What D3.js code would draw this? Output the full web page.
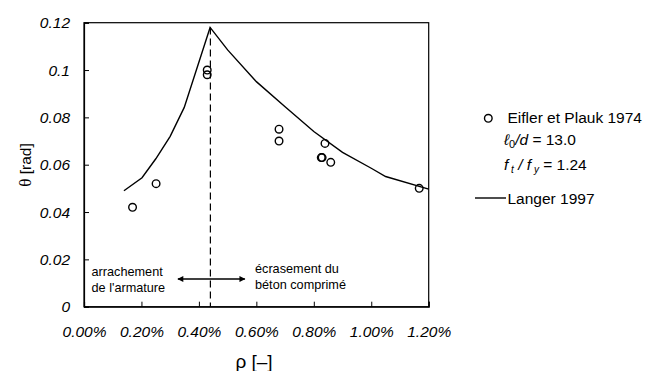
<!DOCTYPE html>
<html><head><meta charset="utf-8">
<script src="https://cdn.jsdelivr.net/npm/d3@7"></script>
<style>body{margin:0;background:#fff}svg{display:block}text{font-family:"Liberation Sans",Arial,sans-serif}</style>
</head><body>
<script>
// ---- data ----
const expRho   = [0.169, 0.251, 0.429, 0.429, 0.679, 0.679, 0.826, 0.829, 0.839, 0.859, 1.167];
const expTheta = [0.042, 0.052, 0.100, 0.098, 0.075, 0.070, 0.063, 0.063, 0.069, 0.061, 0.050];
const langerRho   = [0.139, 0.202, 0.250, 0.300, 0.349, 0.439, 0.500, 0.600, 0.700, 0.800, 0.900, 1.000, 1.050, 1.200];
const langerTheta = [0.0490, 0.0545, 0.0625, 0.0720, 0.0842, 0.1180, 0.1085, 0.0951, 0.0845, 0.0740, 0.0652, 0.0585, 0.0550, 0.0497];
const xTicks = [0, 0.2, 0.4, 0.6, 0.8, 1.0, 1.2];
const xTickLabels = ["0.00%", "0.20%", "0.40%", "0.60%", "0.80%", "1.00%", "1.20%"];
const yTicks = [0, 0.02, 0.04, 0.06, 0.08, 0.1, 0.12];
const yTickLabels = ["0", "0.02", "0.04", "0.06", "0.08", "0.1", "0.12"];
const limitRho = 0.44;

const W = 646, H = 371;
const svg = d3.select("body").append("svg").attr("width", W).attr("height", H);
const x = d3.scaleLinear().domain([0, 1.2]).range([84, 428.7]);
const y = d3.scaleLinear().domain([0, 0.12]).range([306.7, 22.7]);

// frame
svg.append("rect").attr("x", x(0)).attr("y", y(0.12)).attr("width", x(1.2) - x(0)).attr("height", y(0) - y(0.12))
  .attr("fill", "none").attr("stroke", "#000").attr("stroke-width", 1.2);

// axes
const xAxis = d3.axisBottom(x).tickValues(xTicks).tickSize(-5).tickPadding(19)
  .tickFormat((d, i) => xTickLabels[i]);
const gx = svg.append("g").attr("transform", `translate(0,${y(0)})`).call(xAxis);
const yAxis = d3.axisLeft(y).tickValues(yTicks).tickSize(-5).tickPadding(14)
  .tickFormat((d, i) => yTickLabels[i]);
const gy = svg.append("g").attr("transform", `translate(${x(0)},0)`).call(yAxis);
[gx, gy].forEach(g => {
  g.select(".domain").attr("stroke", "#000").attr("stroke-width", 1.2);
  g.selectAll(".tick line").attr("stroke", "#000").attr("stroke-width", 1);
  g.selectAll(".tick text").attr("font-family", "'Liberation Sans',Arial,sans-serif")
    .attr("font-size", 15.5).attr("font-style", "italic").attr("fill", "#000");
});

// axis titles
svg.append("text").attr("x", 254).attr("y", 368).attr("text-anchor", "middle")
  .attr("font-family", "'Liberation Serif','Times New Roman',serif").attr("font-size", 19)
  .text("ρ [–]");
const yt = svg.append("text").attr("transform", "translate(31,165) rotate(-90)").attr("text-anchor", "middle")
  .attr("font-size", 15.5);
yt.append("tspan").attr("font-family", "'Liberation Serif',serif").attr("font-size", 17).text("θ");
yt.append("tspan").text(" [rad]");

// dashed limit line
svg.append("line").attr("x1", x(limitRho)).attr("x2", x(limitRho))
  .attr("y1", y(d3.max(langerTheta))).attr("y2", y(0))
  .attr("stroke", "#000").attr("stroke-width", 1.2).attr("stroke-dasharray", "7,4");

// Langer curve
const line = d3.line().x(d => x(d[0])).y(d => y(d[1]));
svg.append("path").datum(langerRho.map((r, i) => [r, langerTheta[i]]))
  .attr("d", line).attr("fill", "none").attr("stroke", "#000").attr("stroke-width", 1.4);

// experimental points
svg.append("g").selectAll("circle").data(expRho.map((r, i) => [r, expTheta[i]])).join("circle")
  .attr("cx", d => x(d[0])).attr("cy", d => y(d[1])).attr("r", 3.8)
  .attr("fill", "none").attr("stroke", "#000").attr("stroke-width", 1.4);

// double arrow
const defs = svg.append("defs");
defs.append("marker").attr("id", "ah").attr("viewBox", "0 0 10 10").attr("refX", 9).attr("refY", 5)
  .attr("markerWidth", 10).attr("markerHeight", 6).attr("markerUnits", "userSpaceOnUse").attr("orient", "auto-start-reverse")
  .append("path").attr("d", "M0,0L10,5L0,10Z").attr("fill", "#000");
const arrowY = y(0.0117);
svg.append("line").attr("x1", x(0.327)).attr("x2", x(0.56)).attr("y1", arrowY).attr("y2", arrowY)
  .attr("stroke", "#000").attr("stroke-width", 1.5)
  .attr("marker-start", "url(#ah)").attr("marker-end", "url(#ah)");

// annotations
const ann = (tx, ty, s) => svg.append("text").attr("x", tx).attr("y", ty).attr("font-size", 12.7).text(s);
ann(x(0) + 7.5, 276, "arrachement");
ann(x(0) + 7.5, 292, "de l'armature");
ann(255, 272.5, "écrasement du");
ann(255, 288.5, "béton comprimé");

// legend
const lg = svg.append("g").attr("font-size", 15.5);
lg.append("circle").attr("cx", 488.3).attr("cy", 118.3).attr("r", 3.8).attr("fill", "none").attr("stroke", "#000").attr("stroke-width", 1.4);
lg.append("text").attr("x", 507.5).attr("y", 123.3).text("Eifler et Plauk 1974");
const t1 = lg.append("text").attr("x", 504).attr("y", 145);
t1.append("tspan").attr("font-style", "italic").text("ℓ");
t1.append("tspan").attr("font-size", 11).attr("dy", 3).text("0");
t1.append("tspan").attr("dy", -3).attr("font-style", "italic").text("/d");
t1.append("tspan").text(" = 13.0");
const t2 = lg.append("text").attr("x", 504).attr("y", 170);
t2.append("tspan").attr("font-style", "italic").text("f");
t2.append("tspan").attr("font-size", 10).attr("dy", 3).attr("font-style", "italic").text(" t");
t2.append("tspan").attr("dy", -3).attr("font-style", "italic").text(" / f");
t2.append("tspan").attr("font-size", 10).attr("dy", 3).attr("font-style", "italic").text(" y");
t2.append("tspan").attr("dy", -3).text("  = 1.24");
lg.append("line").attr("x1", 475).attr("x2", 506).attr("y1", 198).attr("y2", 198).attr("stroke", "#000").attr("stroke-width", 1.4);
lg.append("text").attr("x", 507.5).attr("y", 204).text("Langer 1997");
</script>
</body></html>
